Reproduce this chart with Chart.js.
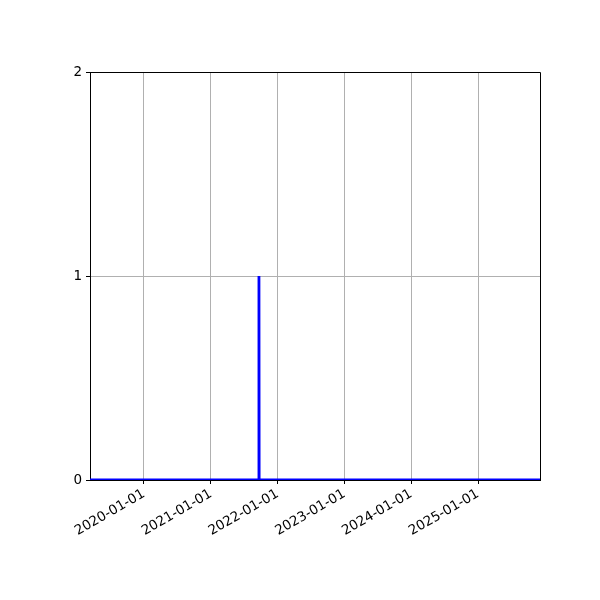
<!DOCTYPE html>
<html>
<head>
<meta charset="utf-8">
<script src="https://cdn.jsdelivr.net/npm/chart.js@4"></script>
<style>
  html, body { margin: 0; padding: 0; background: #ffffff; }
  #wrap { width: 600px; height: 600px; }
</style>
</head>
<body>
<div id="wrap"><canvas id="chart" width="600" height="600"></canvas></div>
<script>
// series: zero everywhere, a single spike to 1 in late Sept 2021
const dates = ['2019-03-12', '2021-09-20', '2021-09-21', '2021-09-22', '2025-12-06'];
const values = [0, 0, 1, 0, 0];

// x tick labels (Jan 1 of each year)
const tickDates = ['2020-01-01', '2021-01-01', '2022-01-01', '2023-01-01', '2024-01-01', '2025-01-01'];
const yTicks = [0, 1, 2];

const toMs = (s) => Date.parse(s + 'T00:00:00Z');

function fmtDate(ms) {
    const d = new Date(ms);
    const m = String(d.getUTCMonth() + 1).padStart(2, '0');
    const day = String(d.getUTCDate()).padStart(2, '0');
    return `${d.getUTCFullYear()}-${m}-${day}`;
}

const points = dates.map((d, i) => ({ x: toMs(d), y: values[i] }));

// draws the top/right spines so the plot has a full frame like matplotlib
const frame = {
    id: 'frame',
    afterDatasetsDraw(chart) {
        const { ctx, chartArea: a } = chart;
        ctx.save();
        ctx.strokeStyle = '#000000';
        ctx.lineWidth = 1;
        ctx.beginPath();
        ctx.moveTo(a.left, a.top + 0.5);
        ctx.lineTo(a.right + 0.5, a.top + 0.5);
        ctx.lineTo(a.right + 0.5, a.bottom);
        ctx.stroke();
        ctx.restore();
    }
};

const font = { family: 'DejaVu Sans', size: 13.5 };

new Chart(document.getElementById('chart'), {
    type: 'line',
    data: {
        datasets: [{
            data: points,
            borderColor: '#0000ff',
            borderWidth: 2.8,
            pointRadius: 0,
            tension: 0,
            fill: false
        }]
    },
    options: {
        responsive: false,
        animation: false,
        layout: { padding: { top: 72, right: 60, left: 0, bottom: 0 } },
        plugins: {
            legend: { display: false },
            tooltip: { enabled: false }
        },
        scales: {
            x: {
                type: 'linear',
                min: toMs(dates[0]),
                max: toMs(dates[dates.length - 1]),
                afterBuildTicks: (scale) => {
                    scale.ticks = tickDates.map(d => ({ value: toMs(d) }));
                },
                afterFit: (scale) => { scale.height = 120; },
                border: { display: true, color: '#000000', width: 1 },
                grid: {
                    color: '#b0b0b0',
                    lineWidth: 1,
                    tickColor: '#000000',
                    tickLength: 4
                },
                ticks: {
                    color: '#000000',
                    font: font,
                    minRotation: 30,
                    maxRotation: 30,
                    padding: 2,
                    autoSkip: false,
                    callback: (v) => fmtDate(v)
                }
            },
            y: {
                min: 0,
                max: 2,
                afterBuildTicks: (scale) => {
                    scale.ticks = yTicks.map(v => ({ value: v }));
                },
                afterFit: (scale) => { scale.width = 90; },
                border: { display: true, color: '#000000', width: 1 },
                grid: {
                    color: '#b0b0b0',
                    lineWidth: 1,
                    tickColor: '#000000',
                    tickLength: 4
                },
                ticks: {
                    color: '#000000',
                    font: font,
                    padding: 4,
                    callback: (v) => String(v)
                }
            }
        }
    },
    plugins: [frame]
});
</script>
</body>
</html>
